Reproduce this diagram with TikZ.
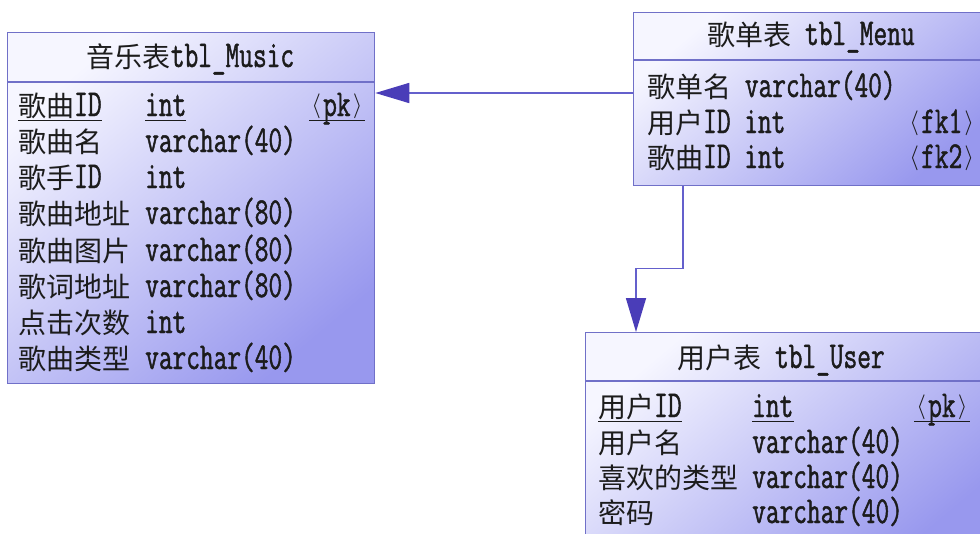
\documentclass[tikz,border=0pt]{standalone}
\usepackage{fontspec}
\setmonofont{Latin Modern Mono}[FakeStretch=0.7,FakeBold=1.2]
\newfontfamily\zhfont{Noto Sans CJK SC}[Scale=0.737]
\usetikzlibrary{arrows.meta}
\newcommand\zh[1]{{\zhfont #1}}
\newcommand\angb[1]{\makebox[14pt]{\raisebox{4pt}{\fontsize{24}{24}\selectfont$#1$}}}
\newcommand\ang[1]{\angb{\langle}#1\angb{\rangle}}
\definecolor{boxc}{HTML}{7070C8}
\definecolor{shA}{HTML}{F6F6FF}
\definecolor{shB}{HTML}{9898EE}
\definecolor{linec}{HTML}{6460CC}
\definecolor{tipc}{HTML}{4A3DB8}
\definecolor{txtc}{HTML}{1C1C1C}
\tikzset{
  tbl/.style={draw=boxc, line width=1.3pt, top color=shA, bottom color=shB, shading angle=40, inner sep=0pt, anchor=north west},
  hline/.style={draw=boxc, line width=1.3pt},
  txt/.style={anchor=base west, inner sep=0pt, text=txtc, font=\fontsize{38}{40}\selectfont\ttfamily},
  ttl/.style={anchor=base, inner sep=0pt, text=txtc, font=\fontsize{38}{40}\selectfont\ttfamily},
  uline/.style={draw=txtc, line width=0.9pt},
  link/.style={draw=linec, line width=1.6pt},
  tip/.style={-{Triangle[length=34pt,width=20pt,color=tipc]}}
}
\begin{document}
\begin{tikzpicture}[x=1pt,y=-1pt]
\clip (0,0) rectangle (980,533);
\fill[white] (0,0) rectangle (980,533);
% tables
\node[tbl, minimum width=367pt, minimum height=351pt] (music) at (7,32) {};
\node[tbl, minimum width=356pt, minimum height=173pt] (menu) at (633,12) {};
\node[tbl, minimum width=402pt, minimum height=230pt] (user) at (585,332) {};
\draw[hline] ([yshift=-50pt]music.north west) -- ([yshift=-50pt]music.north east);
\draw[hline] ([yshift=-48pt]menu.north west) -- ([yshift=-48pt]menu.north east);
\draw[hline] ([yshift=-49pt]user.north west) -- ([yshift=-49pt]user.north east);
% titles
\node[ttl] (mt) at (190.5,67) {\zh{音乐表}tbl\_Music};
\node[ttl] (nt) at (811,45) {\zh{歌单表} tbl\_Menu};
\node[ttl] (ut) at (781,368) {\zh{用户表} tbl\_User};
% music rows
\node[txt] (m1n) at (18,116) {\zh{歌曲}ID};
\node[txt] (m1t) at (145,116) {int};
\node[txt] (m1k) at (309,116) {\ang{pk}};
\node[txt] (m2n) at (18,152) {\zh{歌曲名}};
\node[txt] (m2t) at (145,152) {varchar(40)};
\node[txt] (m3n) at (18,188) {\zh{歌手}ID};
\node[txt] (m3t) at (145,188) {int};
\node[txt] (m4n) at (18,224) {\zh{歌曲地址}};
\node[txt] (m4t) at (145,224) {varchar(80)};
\node[txt] (m5n) at (18,261) {\zh{歌曲图片}};
\node[txt] (m5t) at (145,261) {varchar(80)};
\node[txt] (m6n) at (18,297) {\zh{歌词地址}};
\node[txt] (m6t) at (145,297) {varchar(80)};
\node[txt] (m7n) at (18,333) {\zh{点击次数}};
\node[txt] (m7t) at (145,333) {int};
\node[txt] (m8n) at (18,369) {\zh{歌曲类型}};
\node[txt] (m8t) at (145,369) {varchar(40)};
\foreach \n in {m1n,m1t,m1k}
  \draw[uline] ([yshift=-4pt]\n.base west) -- ([yshift=-4pt]\n.base east);
% menu rows
\node[txt] (n1) at (647,97) {\zh{歌单名} varchar(40)};
\node[txt] (n2) at (647,133) {\zh{用户}ID int};
\node[txt] (n2k) at (907,133) {\ang{fk1}};
\node[txt] (n3) at (647,168) {\zh{歌曲}ID int};
\node[txt] (n3k) at (907,168) {\ang{fk2}};
% user rows
\node[txt] (u1n) at (598,417) {\zh{用户}ID};
\node[txt] (u1t) at (752,417) {int};
\node[txt] (u1k) at (914,417) {\ang{pk}};
\node[txt] (u2n) at (598,453) {\zh{用户名}};
\node[txt] (u2t) at (752,453) {varchar(40)};
\node[txt] (u3n) at (598,488) {\zh{喜欢的类型}};
\node[txt] (u3t) at (752,488) {varchar(40)};
\node[txt] (u4n) at (598,523) {\zh{密码}};
\node[txt] (u4t) at (752,523) {varchar(40)};
\foreach \n in {u1n,u1t,u1k}
  \draw[uline] ([yshift=-4pt]\n.base west) -- ([yshift=-4pt]\n.base east);
% connectors
\draw[link,tip] ([yshift=-81pt]menu.north west) -- ([yshift=-61pt]music.north east);
\draw[link,tip] ([xshift=50pt]menu.south west) -- ++(0,82) -| ([xshift=51pt]user.north west);
\end{tikzpicture}
\end{document}
